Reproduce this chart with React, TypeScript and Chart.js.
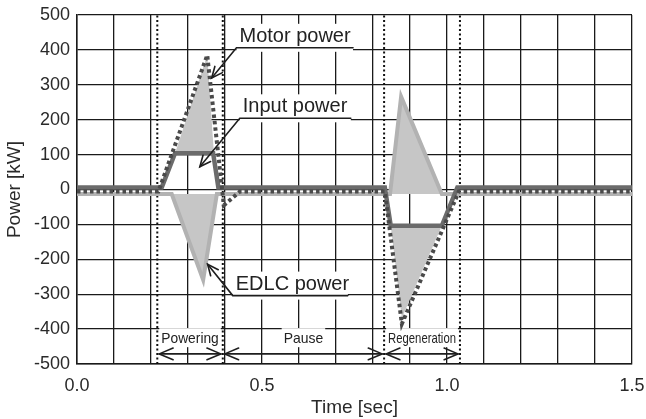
import React, { useEffect, useRef } from 'react';
import { Chart, registerables } from 'chart.js';
Chart.register(...registerables);

// ---- data ----
const timeTickLabels = [0, 0.5, 1.0, 1.5];

const motorTime = [0, 0.22, 0.352, 0.397, 0.44, 0.832, 0.878, 1.032, 1.5];
const motorPower = [-6, -6, 385, -45, -6, -6, -385, -6, -6];

const inputTime = [0, 0.229, 0.265, 0.368, 0.382, 0.832, 0.848, 0.986, 1.028, 1.5];
const inputPower = [6, 6, 104, 104, 6, 6, -104, -104, 6, 6];

const edlcTime = [0, 0.256, 0.341, 0.378, 0.846, 0.876, 0.986, 1.5];
const edlcPower = [-13, -13, -259, -13, -13, 266, -13, -13];

// shaded triangles: [times], [values], base value
const shadeMotorUpTime = [0.265, 0.352, 0.37];
const shadeMotorUpPower = [104, 385, 104];
const shadeEdlcDownTime = [0.256, 0.341, 0.378];
const shadeEdlcDownPower = [-13, -259, -13];
const shadeEdlcUpTime = [0.846, 0.876, 0.986];
const shadeEdlcUpPower = [-13, 266, -13];
const shadeMotorDownTime = [0.848, 0.878, 0.986];
const shadeMotorDownPower = [-104, -368, -104];

const phaseBounds = [0.217, 0.394, 0.83, 1.035];
const phaseLabels = ['Powering', 'Pause', 'Regeneration'];

const calloutLabels = ['Motor power', 'Input power', 'EDLC power'];
const calloutStartX = [0.431, 0.44, 0.421];
const calloutEndX = [0.746, 0.74, 0.732];
const calloutLineY = [406, 204, -304];
const calloutTipX = [0.364, 0.332, 0.353];
const calloutTipY = [319.5, 65, -214];

const toPts = (xs: number[], ys: number[]) => xs.map((x, i) => ({ x, y: ys[i] }));

const FONT = '"Liberation Sans", Arial, Helvetica, sans-serif';
const PHASE_FONT = `15px ${FONT}`;

function arrowHead(ctx: CanvasRenderingContext2D, tx: number, ty: number, fx: number, fy: number, len: number, ang: number) {
  const a = Math.atan2(fy - ty, fx - tx);
  ctx.beginPath();
  ctx.moveTo(tx + len * Math.cos(a + ang), ty + len * Math.sin(a + ang));
  ctx.lineTo(tx, ty);
  ctx.lineTo(tx + len * Math.cos(a - ang), ty + len * Math.sin(a - ang));
  ctx.stroke();
}

function phaseWidth(ctx: CanvasRenderingContext2D, text: string, a: number, b: number) {
  ctx.font = PHASE_FONT;
  return Math.min(ctx.measureText(text).width * 0.93, b - a - 8);
}

const annotationPlugin = {
  id: 'annot',
  beforeDatasetsDraw(chart: any) {
    const { ctx, scales } = chart;
    const xs = scales.x, ys = scales.y;
    ctx.save();
    ctx.fillStyle = '#ffffff';
    for (let i = 0; i < calloutLabels.length; i++) {
      const x1 = xs.getPixelForValue(calloutStartX[i]);
      const x2 = xs.getPixelForValue(calloutEndX[i]);
      const ly = ys.getPixelForValue(calloutLineY[i]);
      ctx.fillRect(x1, ly - 24, x2 - x1, 28);
    }
    const ty = ys.getPixelForValue(-426);
    for (let i = 0; i < phaseLabels.length; i++) {
      const a = xs.getPixelForValue(phaseBounds[i]);
      const b = xs.getPixelForValue(phaseBounds[i + 1]);
      const w = phaseWidth(ctx, phaseLabels[i], a, b);
      const c = (a + b) / 2;
      ctx.fillRect(c - w / 2 - 2, ty - 10, w + 4, 19);
    }
    ctx.restore();
  },
  afterDatasetsDraw(chart: any) {
    const { ctx, scales } = chart;
    const xs = scales.x, ys = scales.y;
    ctx.save();
    ctx.strokeStyle = '#1e1e1e';
    ctx.fillStyle = '#222222';
    ctx.lineWidth = 1.6;
    ctx.lineCap = 'round';
    ctx.lineJoin = 'miter';
    for (let i = 0; i < calloutLabels.length; i++) {
      const x1 = xs.getPixelForValue(calloutStartX[i]);
      const x2 = xs.getPixelForValue(calloutEndX[i]);
      const ly = ys.getPixelForValue(calloutLineY[i]);
      const tx = xs.getPixelForValue(calloutTipX[i]);
      const tyy = ys.getPixelForValue(calloutTipY[i]);
      ctx.font = `20px ${FONT}`;
      ctx.textAlign = 'left';
      ctx.textBaseline = 'alphabetic';
      ctx.fillText(calloutLabels[i], x1 + 3, ly - 6);
      ctx.beginPath();
      ctx.moveTo(x2, ly);
      ctx.lineTo(x1, ly);
      ctx.lineTo(tx, tyy);
      ctx.stroke();
      arrowHead(ctx, tx, tyy, x1, ly, 12, 0.42);
    }
    const ty = ys.getPixelForValue(-426);
    const ay = ys.getPixelForValue(-471);
    for (let i = 0; i < phaseLabels.length; i++) {
      const a = xs.getPixelForValue(phaseBounds[i]);
      const b = xs.getPixelForValue(phaseBounds[i + 1]);
      const c = (a + b) / 2;
      const w = phaseWidth(ctx, phaseLabels[i], a, b);
      ctx.font = PHASE_FONT;
      ctx.textAlign = 'center';
      ctx.textBaseline = 'middle';
      ctx.fillText(phaseLabels[i], c, ty + 1, w);
      ctx.lineWidth = 1.6;
      ctx.beginPath();
      ctx.moveTo(a + 2, ay);
      ctx.lineTo(b - 2, ay);
      ctx.stroke();
      arrowHead(ctx, a + 2, ay, b, ay, 15, 0.4);
      arrowHead(ctx, b - 2, ay, a, ay, 15, 0.4);
    }
    ctx.restore();
  },
};

export default function App() {
  const ref = useRef<HTMLCanvasElement | null>(null);
  useEffect(() => {
    document.body.style.margin = '0';
    const canvas = ref.current;
    if (!canvas) return;
    const shade = (xs: number[], ys: number[], base: number) => ({
      data: toPts(xs, ys),
      borderWidth: 0,
      borderColor: 'rgba(0,0,0,0)',
      backgroundColor: '#c6c6c6',
      pointRadius: 0,
      fill: { value: base },
      order: 10,
    });
    const phaseLine = (x: number) => ({
      data: [{ x, y: -500 }, { x, y: 500 }],
      borderColor: '#111111',
      borderWidth: 2,
      borderDash: [2, 2.5],
      pointRadius: 0,
      fill: false,
      order: 5,
    });
    const chart = new Chart(canvas, {
      type: 'line',
      data: {
        datasets: [
          {
            label: 'Motor power',
            data: toPts(motorTime, motorPower),
            borderColor: '#4a4a4a',
            borderWidth: 4,
            borderDash: [3.5, 3],
            pointRadius: 0,
            fill: false,
            order: 1,
          },
          {
            label: 'Input power',
            data: toPts(inputTime, inputPower),
            borderColor: '#6b6b6b',
            borderWidth: 4.5,
            pointRadius: 0,
            fill: false,
            order: 2,
          },
          {
            label: 'EDLC power',
            data: toPts(edlcTime, edlcPower),
            borderColor: '#b2b2b2',
            borderWidth: 4,
            pointRadius: 0,
            fill: false,
            order: 3,
          },
          ...phaseBounds.map(phaseLine),
          shade(shadeMotorUpTime, shadeMotorUpPower, 104),
          shade(shadeEdlcDownTime, shadeEdlcDownPower, -13),
          shade(shadeEdlcUpTime, shadeEdlcUpPower, -13),
          shade(shadeMotorDownTime, shadeMotorDownPower, -104),
        ] as any,
      },
      options: {
        animation: false,
        responsive: false,
        events: [],
        layout: { padding: { top: 15, right: 14, left: 0, bottom: 0 } },
        plugins: { legend: { display: false }, tooltip: { enabled: false } },
        elements: { line: { tension: 0, borderJoinStyle: 'miter' } },
        scales: {
          x: {
            type: 'linear',
            min: 0,
            max: 1.5,
            afterFit: (s: any) => {
              s.height = 55;
              s.paddingLeft = 0;
              s.paddingRight = 0;
            },
            ticks: {
              stepSize: 0.1,
              autoSkip: false,
              maxRotation: 0,
              padding: 11,
              color: '#2a2a2a',
              font: { family: FONT, size: 18 },
              callback: (v: any) => {
                const n = Number(v);
                return timeTickLabels.some((t) => Math.abs(t - n) < 1e-6) ? n.toFixed(1) : '';
              },
            },
            grid: { color: '#1a1a1a', lineWidth: 1.3, drawTicks: false },
            border: { color: '#1a1a1a', width: 1.5 },
            title: {
              display: true,
              text: 'Time [sec]',
              color: '#2a2a2a',
              font: { family: FONT, size: 19 },
              padding: { top: 0, bottom: 0 },
            },
          },
          y: {
            type: 'linear',
            min: -500,
            max: 500,
            afterFit: (s: any) => {
              s.width = 77;
              s.paddingTop = 0;
              s.paddingBottom = 0;
            },
            ticks: {
              stepSize: 100,
              padding: 7,
              color: '#2a2a2a',
              font: { family: FONT, size: 18 },
            },
            grid: { color: '#1a1a1a', lineWidth: 1.3, drawTicks: false },
            border: { color: '#1a1a1a', width: 1.5 },
            title: {
              display: true,
              text: 'Power [kW]',
              color: '#2a2a2a',
              font: { family: FONT, size: 19 },
              padding: { top: 3, bottom: 0 },
            },
          },
        },
      } as any,
      plugins: [annotationPlugin],
    });
    return () => chart.destroy();
  }, []);
  return (
    <div style={{ width: 646, height: 419 }}>
      <canvas ref={ref} width={646} height={419} />
    </div>
  );
}
